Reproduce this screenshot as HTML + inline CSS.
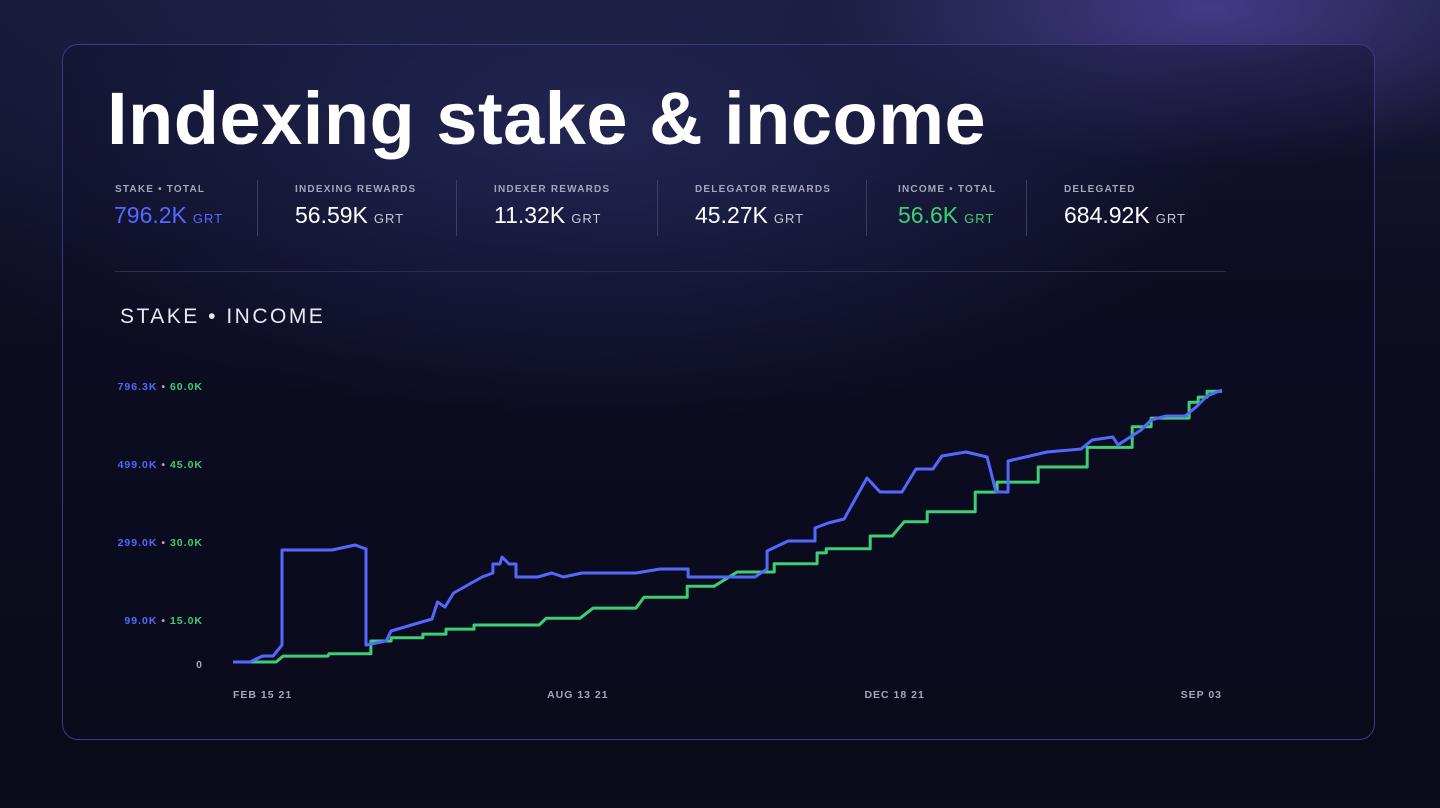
<!DOCTYPE html>
<html><head><meta charset="utf-8"><style>
html,body{margin:0;padding:0;width:1440px;height:808px;overflow:hidden;background:#0b0a18;font-family:"Liberation Sans",sans-serif;}
#bg{position:absolute;left:0;top:0;width:1440px;height:808px;
background:radial-gradient(ellipse 380px 160px at 1210px 10px,rgba(110,90,210,0.5),rgba(110,90,210,0) 100%),
radial-gradient(ellipse 700px 260px at 560px 150px,rgba(60,70,150,0.3),rgba(60,70,150,0) 100%),
linear-gradient(180deg,#191b3a 0px,#0e0e24 260px,#0a0a18 808px);}
#card{position:absolute;left:62px;top:44px;width:1313px;height:696px;border:1px solid #3b3a86;border-radius:16px;box-sizing:border-box;
background:radial-gradient(ellipse 600px 300px at 560px 80px,rgba(70,80,160,0.2),rgba(0,0,0,0)),rgba(12,12,34,0.35);}
.t{position:absolute;white-space:nowrap;}
#title{left:107px;top:76px;font-size:74px;font-weight:bold;color:#fff;letter-spacing:0.5px;}
.lab{font-size:10px;letter-spacing:1.2px;color:#a4a6bc;font-weight:bold;top:184px;}
.val{font-size:23px;color:#fff;top:202px;}
.val span{font-size:13px;letter-spacing:1px;color:#c8c9d8;margin-left:6px;}
.div{position:absolute;top:180px;width:1px;height:56px;background:#3c3e5e;}
</style></head><body>
<div id="bg"></div>
<div id="card"></div>
<div class="t" id="title">Indexing stake &amp; income</div>

<div class="t lab" style="left:115px">STAKE • TOTAL</div>
<div class="t val" style="left:114px;color:#5468ff">796.2K<span style="color:#5468ff">GRT</span></div>
<div class="div" style="left:257px"></div>
<div class="t lab" style="left:295px">INDEXING REWARDS</div>
<div class="t val" style="left:295px">56.59K<span>GRT</span></div>
<div class="div" style="left:456px"></div>
<div class="t lab" style="left:494px">INDEXER REWARDS</div>
<div class="t val" style="left:494px">11.32K<span>GRT</span></div>
<div class="div" style="left:657px"></div>
<div class="t lab" style="left:695px">DELEGATOR REWARDS</div>
<div class="t val" style="left:695px">45.27K<span>GRT</span></div>
<div class="div" style="left:866px"></div>
<div class="t lab" style="left:898px">INCOME • TOTAL</div>
<div class="t val" style="left:898px;color:#3ecf74">56.6K<span style="color:#3ecf74">GRT</span></div>
<div class="div" style="left:1026px"></div>
<div class="t lab" style="left:1064px">DELEGATED</div>
<div class="t val" style="left:1064px">684.92K<span>GRT</span></div>
<div style="position:absolute;left:115px;top:271px;width:1111px;height:1px;background:#2c2e4c"></div>
<div class="t" style="left:120px;top:305px;font-size:21px;letter-spacing:2.5px;color:#e8e9f2">STAKE • INCOME</div>

<svg id="chart" width="1440" height="808" style="position:absolute;left:0;top:0"></svg>
<script>
const stakeT=[0,9.7,16.9,22.9,28,28,56.6,69.7,76,76,87.4,90.3,113.7,116.8,121.1,126,142.3,148.5,148.5,152.5,153.7,157.7,161.7,161.7,174,182.2,188.8,199.4,230.2,244,260,260,298.2,305.1,305.1,317.1,332.5,332.5,340,349.1,362.2,369.6,382.2,390.2,399.9,405,418.8,430.8,435.9,442.8,442.8,465,484.5,490.8,502.7,505.6,518.7,524.5,533,543.9,550.2,556.5,565];
const stakeV=[0,0,17.4,17.4,49.4,325.5,325.5,340,328.4,49.4,61,90.1,125,174.4,159.8,200.5,247,258.6,284.8,284.8,305.1,284.8,284.8,247,247,258.6,247,258.6,258.6,270.3,270.3,247,247,270.3,322.6,351.6,351.6,389.4,403.9,415.6,534.7,494,494,560.9,560.9,598.6,610.3,595.7,494,494,584.1,610.3,619,645.1,653.9,630.6,674.2,703.3,714.9,714.9,741,773,790.4];
const incomeT=[0,24.6,28.6,54.3,54.8,78.8,78.8,90.3,90.3,108.5,108.5,121.7,121.7,137.7,137.7,174.9,178.9,198.3,205.7,230.2,234.8,259.5,259.5,274.9,288,309.2,309.2,333.7,333.7,338.9,338.9,364,364,376.6,383.4,396.6,396.6,424,424,436.5,436.5,460,460,488,488,513.7,513.7,524.5,524.5,546.2,546.2,551.4,551.4,556.5,556.5,565];
const incomeV=[0,0,1.3,1.3,1.8,1.8,4.6,4.6,5.3,5.3,6.1,6.1,7.2,7.2,8.1,8.1,9.6,9.6,11.8,11.8,14.2,14.2,16.6,16.6,19.7,19.7,21.5,21.5,23.9,23.9,24.8,24.8,27.6,27.6,30.7,30.7,32.9,32.9,37.2,37.2,39.4,39.4,42.7,42.7,47,47,51.5,51.5,53.4,53.4,56.9,56.9,58,58,59.3,59.3];
const stakeTicks=["99.0K","299.0K","499.0K","796.3K"];
const incomeTicks=["15.0K","30.0K","45.0K","60.0K"];
const xLabels=["FEB 15 21","AUG 13 21","DEC 18 21","SEP 03"];
const xLabelT=[0,197,378,565];
const stakeMax=796.3, incomeMax=60, tMax=565;

const svg=document.getElementById('chart');
const NS='http://www.w3.org/2000/svg';
const X0=233,X1=1222,Y0=662,Y1=388;
const xs=t=>X0+t/tMax*(X1-X0);
const ysS=v=>Y0-v/stakeMax*(Y0-Y1);
const ysI=v=>Y0-v/incomeMax*(Y0-Y1);

function txt(x,y,s,fill,anchor,name){
  const e=document.createElementNS(NS,'text');
  e.setAttribute('x',x);e.setAttribute('y',y);
  e.setAttribute('fill',fill);e.setAttribute('font-size','10.5');
  e.setAttribute('font-weight','bold');e.setAttribute('letter-spacing','1');
  e.setAttribute('font-family','Liberation Sans, sans-serif');
  e.setAttribute('text-anchor',anchor);
  
  
  e.textContent=s;svg.appendChild(e);return e;
}
txt(203,668,'0','#a4a6bc','end','y-tick-zero');
for(let i=0;i<stakeTicks.length;i++){
  const y=620-i*78+4;
  const g=txt(203,y,'', '#3ecf74','end','y-tick-label');
  const a=document.createElementNS(NS,'tspan');a.setAttribute('fill','#5468ff');a.textContent=stakeTicks[i];g.appendChild(a);
  const b=document.createElementNS(NS,'tspan');b.setAttribute('fill','#a4a6bc');b.textContent=' • ';g.appendChild(b);
  const c=document.createElementNS(NS,'tspan');c.setAttribute('fill','#3ecf74');c.textContent=incomeTicks[i];g.appendChild(c);
}
for(let i=0;i<xLabels.length;i++){
  const anchor=i==0?'start':(i==xLabels.length-1?'end':'middle');
  txt(xs(xLabelT[i]),698,xLabels[i],'#a4a6bc',anchor,'x-tick-label');
}
function line(T,V,ys,color,name){
  const p=document.createElementNS(NS,'path');
  let d='';for(let i=0;i<T.length;i++)d+=(i?'L':'M')+xs(T[i]).toFixed(1)+','+ys(V[i]).toFixed(1);
  p.setAttribute('d',d);p.setAttribute('fill','none');p.setAttribute('stroke',color);
  p.setAttribute('stroke-width','3');p.setAttribute('stroke-linejoin','round');
  
  
  svg.appendChild(p);
}
line(incomeT,incomeV,ysI,'#3ecf74','income-line');
line(stakeT,stakeV,ysS,'#5468ff','stake-line');
</script>
</body></html>
